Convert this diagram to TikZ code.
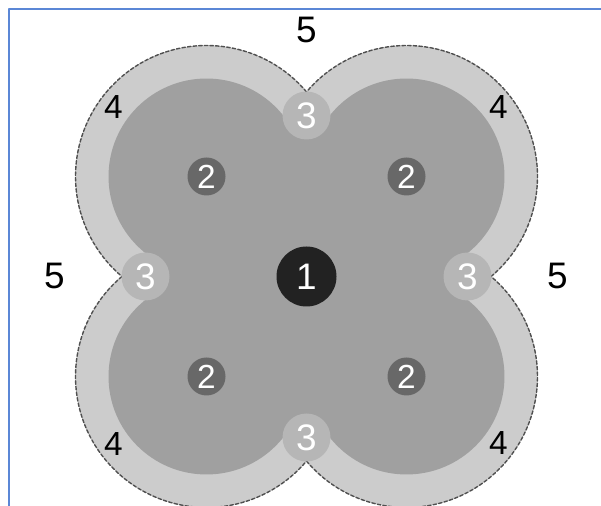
\documentclass[tikz,border=0pt]{standalone}
\usepackage{fontspec}
\setmainfont{Liberation Sans}
\usetikzlibrary{calc}
\definecolor{ColFrame}{RGB}{91,135,214}
\definecolor{ColFour}{RGB}{204,204,204}
\definecolor{ColMid}{RGB}{160,160,160}
\definecolor{ColThree}{RGB}{182,182,182}
\definecolor{ColTwo}{RGB}{104,104,104}
\definecolor{ColOne}{RGB}{34,34,34}
\definecolor{ColEdge}{RGB}{80,80,80}

\begin{document}
\begin{tikzpicture}[
  line cap=round,
  line join=round,
  edge/.style={ColEdge, line width=0.4pt, dash pattern=on 1pt off 0.6pt},
  zone/.style={circle, inner sep=0pt, text=white},
  big/.style={font=\fontsize{10.5}{10.5}\selectfont},
  small/.style={font=\fontsize{9.5}{9.5}\selectfont},
  outside/.style={inner sep=0pt, text=black}
]
  \useasboundingbox (-3.065,-2.295) rectangle (2.945,2.765);
  % frame, only left and top edges show
  \draw[ColFrame, line width=0.45pt] (-2.975,-2.295) -- (-2.975,2.675) -- (2.945,2.675);

  % zone 4: light outer discs, dashed only along the outer rim
  \def\Rfour{1.31}
  \pgfmathsetmacro{\half}{135-acos(1/\Rfour)}
  \foreach \ang in {45,135,225,315}{\fill[ColFour] (\ang:1.414) circle (\Rfour);}
  \foreach \ang in {45,135,225,315}{
    \draw[edge, shift={(\ang:1.414)}] (\ang-\half:\Rfour)
      arc[start angle=\ang-\half, end angle=\ang+\half, radius=\Rfour];
  }

  % mid grey body: four discs and the middle
  \foreach \ang in {45,135,225,315}{\fill[ColMid] (\ang:1.414) circle (0.98);}
  \fill[ColMid] (1,1) -- (0,1.61) -- (-1,1) -- (-1.61,0) -- (-1,-1) -- (0,-1.61) -- (1,-1) -- (1.61,0) -- cycle;

  % zone 3: small discs between the lobes
  \node[zone, big, fill=ColThree, minimum size=0.48cm] (z3t) at (0,1.61) {3};
  \node[zone, big, fill=ColThree, minimum size=0.48cm] (z3l) at (-1.61,0) {3};
  \node[zone, big, fill=ColThree, minimum size=0.48cm] (z3r) at (1.61,0) {3};
  \node[zone, big, fill=ColThree, minimum size=0.48cm] (z3b) at (0,-1.61) {3};

  % zone 2: lobe centres
  \node[zone, small, fill=ColTwo, minimum size=0.38cm] (z2ul) at (-1,1) {2};
  \node[zone, small, fill=ColTwo, minimum size=0.38cm] (z2ur) at (1,1) {2};
  \node[zone, small, fill=ColTwo, minimum size=0.38cm] (z2ll) at (-1,-1) {2};
  \node[zone, small, fill=ColTwo, minimum size=0.38cm] (z2lr) at (1,-1) {2};

  % zone 1: centre
  \node[zone, big, fill=ColOne, minimum size=0.60cm] (z1) at (0,0) {1};

  % zone 4 labels
  \node[outside, small] (l4ul) at (-1.93,1.69) {4};
  \node[outside, small] (l4ur) at (1.92,1.69) {4};
  \node[outside, small] (l4ll) at (-1.93,-1.68) {4};
  \node[outside, small] (l4lr) at (1.92,-1.67) {4};

  % zone 5 labels
  \node[outside, big] (l5t) at (0,2.47) {5};
  \node[outside, big] (l5l) at (-2.52,0.01) {5};
  \node[outside, big] (l5r) at (2.51,0.01) {5};
\end{tikzpicture}
\end{document}
